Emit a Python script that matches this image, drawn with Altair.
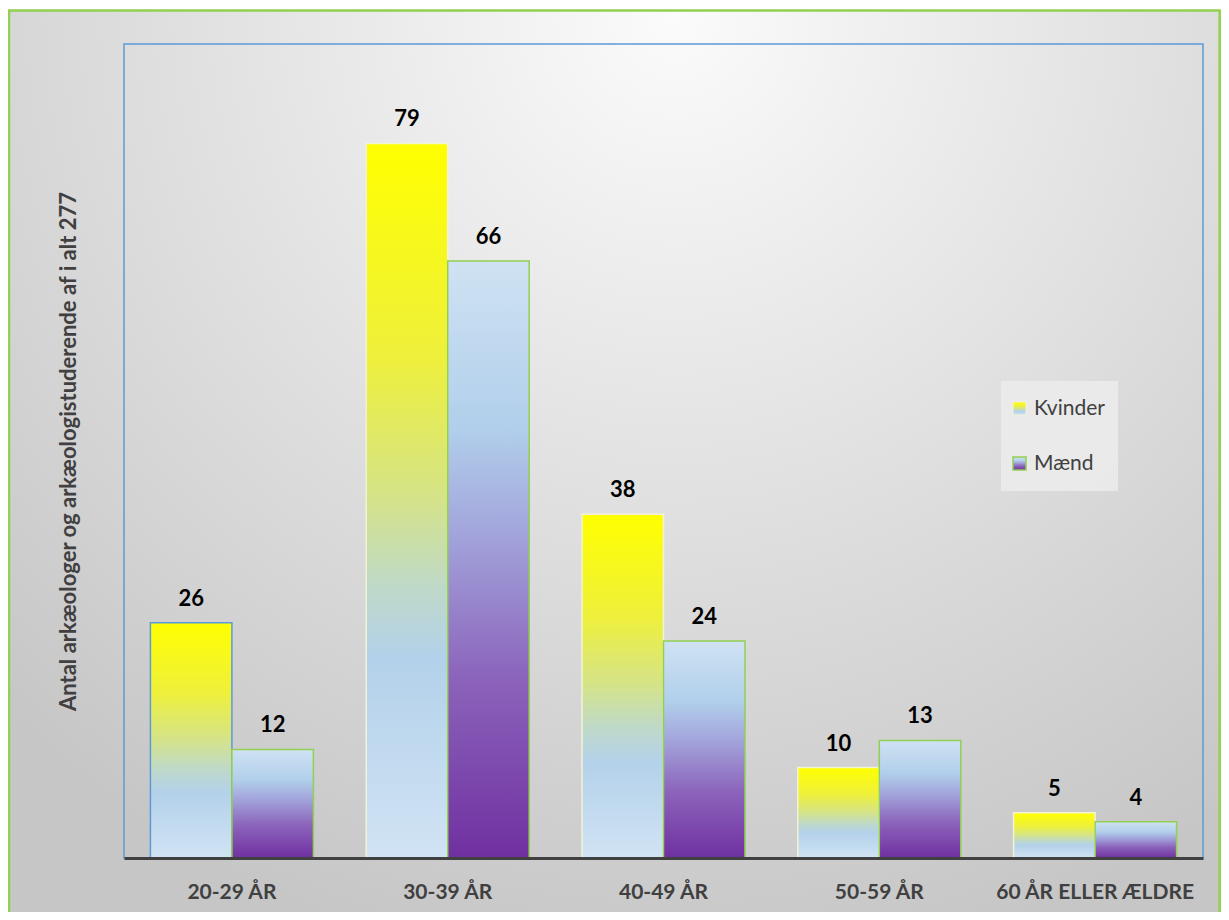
import altair as alt
import pandas as pd

ages = ["20-29 ÅR", "30-39 ÅR", "40-49 ÅR", "50-59 ÅR", "60 ÅR ELLER ÆLDRE"]
kvinder = [26, 79, 38, 10, 5]
maend = [12, 66, 24, 13, 4]
series = ["Kvinder", "Mænd"]
y_title = "Antal arkæologer og arkæologistuderende af i alt 277"

rows = []
for a, k, m in zip(ages, kvinder, maend):
    rows.append({"age": a, "series": "Kvinder", "value": k})
    rows.append({"age": a, "series": "Mænd", "value": m})
df = pd.DataFrame(rows)

W, H = 1079, 814
PAD_L, PAD_T, PAD_R, PAD_B = 116, 36, 18, 54
FONT = "Lato"

grad_k = {"gradient": "linear", "x1": 0, "y1": 0, "x2": 0, "y2": 1,
          "stops": [{"offset": 0, "color": "#ffff00"},
                    {"offset": 0.3, "color": "#eef03c"},
                    {"offset": 0.5, "color": "#d4e38a"},
                    {"offset": 0.62, "color": "#bfd9c8"},
                    {"offset": 0.72, "color": "#b3d1ea"},
                    {"offset": 1, "color": "#d1e3f4"}]}
grad_m = {"gradient": "linear", "x1": 0, "y1": 0, "x2": 0, "y2": 1,
          "stops": [{"offset": 0, "color": "#cfe2f3"},
                    {"offset": 0.28, "color": "#b1cfeb"},
                    {"offset": 0.45, "color": "#a3a6dc"},
                    {"offset": 0.7, "color": "#8b63bb"},
                    {"offset": 1, "color": "#7030a0"}]}
grad_bg = {"gradient": "radial", "x1": 0.55, "y1": 0.12, "r1": 0,
           "x2": 0.55, "y2": 0.12, "r2": 0.8,
           "stops": [{"offset": 0, "color": "#fbfbfb"},
                     {"offset": 1, "color": "#c6c6c6"}]}

one = pd.DataFrame({"k": [0]})

bg = alt.Chart(one).mark_rect(fill=grad_bg, stroke="#92d050", strokeWidth=2.5).encode(
    x=alt.value(-115), x2=alt.value(W + PAD_R - 1.3),
    y=alt.value(-33.5), y2=alt.value(H + PAD_B + 30)
)

x_enc = alt.X("age:N", sort=ages,
              scale=alt.Scale(paddingInner=0.2447, paddingOuter=0.1224),
              axis=alt.Axis(title=None, labelAngle=0, ticks=False, domain=True,
                            domainColor="#404040", domainWidth=3, labelLimit=0,
                            labelFont=FONT, labelFontSize=21, labelFontWeight="bold",
                            labelColor="#404040", labelPadding=23, zindex=1))
y_enc = alt.Y("value:Q", scale=alt.Scale(domain=[0, 90], nice=False),
              axis=alt.Axis(title=y_title, labels=False, ticks=False, domain=False,
                            grid=False, titleFont=FONT, titleFontSize=22,
                            titleFontWeight="bold", titleColor="#404040",
                            titlePadding=44, titleLimit=0, zindex=1))
xo_enc = alt.XOffset("series:N", sort=series,
                     scale=alt.Scale(domain=series, paddingInner=0, paddingOuter=0))

frame = alt.Chart(one).mark_rect(fill=None, stroke="#5b9bd5", strokeWidth=1.5).encode(
    x=alt.value(0), x2=alt.value(W), y=alt.value(0), y2=alt.value(H)
)

base = alt.Chart(df).encode(x=x_enc, xOffset=xo_enc, y=y_enc)

bars_k = base.transform_filter(alt.datum.series == "Kvinder").mark_bar(
    fill=grad_k, strokeWidth=1.5
).encode(
    stroke=alt.condition(alt.datum.age == ages[0], alt.value("#5b9bd5"), alt.value("#f3f3d6"))
)
bars_m = base.transform_filter(alt.datum.series == "Mænd").mark_bar(
    fill=grad_m, stroke="#92d050", strokeWidth=1.5
)
labels = base.mark_text(font=FONT, fontSize=22, fontWeight="bold", color="#000000",
                        dy=-17, baseline="alphabetic").encode(text="value:Q")

# legend
leg_box = alt.Chart(one).mark_rect(fill="#ebebeb", opacity=0.9).encode(
    x=alt.value(877), x2=alt.value(994), y=alt.value(337), y2=alt.value(447)
)
leg_k_sym = alt.Chart(one).mark_rect(fill=grad_k, stroke="#f3f3d6", strokeWidth=1).encode(
    x=alt.value(889), x2=alt.value(902), y=alt.value(358), y2=alt.value(371)
)
leg_m_sym = alt.Chart(one).mark_rect(fill=grad_m, stroke="#92d050", strokeWidth=1.5).encode(
    x=alt.value(889), x2=alt.value(902), y=alt.value(413), y2=alt.value(426)
)
leg_k_txt = alt.Chart(one).mark_text(text=series[0], font=FONT, fontSize=21, color="#404040",
                                     align="left", baseline="middle").encode(
    x=alt.value(910), y=alt.value(365)
)
leg_m_txt = alt.Chart(one).mark_text(text=series[1], font=FONT, fontSize=21, color="#404040",
                                     align="left", baseline="middle").encode(
    x=alt.value(910), y=alt.value(420)
)

chart = alt.layer(
    bg, frame, bars_k, bars_m, labels,
    leg_box, leg_k_sym, leg_m_sym, leg_k_txt, leg_m_txt
).properties(
    width=W, height=H,
    autosize=alt.AutoSizeParams(type="none"),
    padding={"left": PAD_L, "top": PAD_T, "right": PAD_R, "bottom": PAD_B},
    background="white",
).configure_view(stroke=None)

chart.save("out.html", embed_options={"renderer": "svg", "actions": False})
